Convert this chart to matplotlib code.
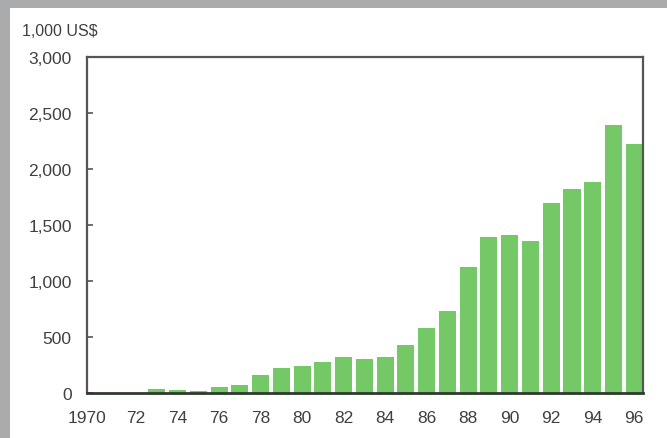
import numpy as np
import matplotlib.pyplot as plt
from matplotlib.patches import Rectangle
from matplotlib.transforms import ScaledTranslation

plt.rcParams['font.family'] = ['Liberation Sans', 'DejaVu Sans']

# values, in 1,000 US$
years = list(range(1970, 1997))
values = [0, 0, 0, 40, 25, 20, 55, 70, 157, 222, 240, 275, 322, 302, 325,
          429, 583, 731, 1124, 1391, 1411, 1361, 1695, 1820, 1888, 2390, 2219]
tick_years = [1970] + list(range(1972, 1997, 2))
tick_labels = ['1970'] + ['%02d' % (y % 100) for y in tick_years[1:]]
y_ticks = [0, 500, 1000, 1500, 2000, 2500, 3000]

W, H = 667, 439
fig = plt.figure(figsize=(W / 100, H / 100), dpi=100)
fig.patch.set_facecolor('white')

# grey frame of the screenshot (top and left)
fig.patches.append(Rectangle((0, 1 - 9 / H), 1, 9 / H, transform=fig.transFigure,
                             facecolor='#a9abad', edgecolor='none', zorder=0))
fig.patches.append(Rectangle((0, 0), 10 / W, 1, transform=fig.transFigure,
                             facecolor='#a9abad', edgecolor='none', zorder=0))

ax = fig.add_axes([87 / W, 1 - 394 / H, (643 - 87) / W, (394 - 58) / H])
ax.bar(years, values, width=0.82, color='#74c866', edgecolor='none', zorder=2)

ax.set_xlim(1969.64, 1996.42)
ax.set_ylim(0, 3000)
ax.set_yticks(y_ticks)
ax.set_yticklabels(['{:,}'.format(v) for v in y_ticks])
ax.set_xticks(tick_years)
ax.set_xticklabels(tick_labels)

txt = '#404040'
ax.tick_params(axis='y', direction='in', length=4, width=1.2, color='#555555',
               pad=11, labelsize=12.5, labelcolor=txt)
ax.tick_params(axis='x', length=0, pad=12, labelsize=12.5, labelcolor=txt)
for s in ax.spines.values():
    s.set_color('#555555')
    s.set_linewidth(1.6)
ax.spines['bottom'].set_color('#2f3a2f')
ax.spines['bottom'].set_linewidth(2)

# the 1970 label sits a bit left of its bar in the original
lab = ax.get_xticklabels()[0]
lab.set_transform(lab.get_transform() + ScaledTranslation(-0.07, 0, fig.dpi_scale_trans))

fig.text(22 / W, 1 - 31 / H, '1,000 US$', fontsize=11.5, color=txt, va='center', ha='left')

fig.savefig('out.png', dpi=100)
